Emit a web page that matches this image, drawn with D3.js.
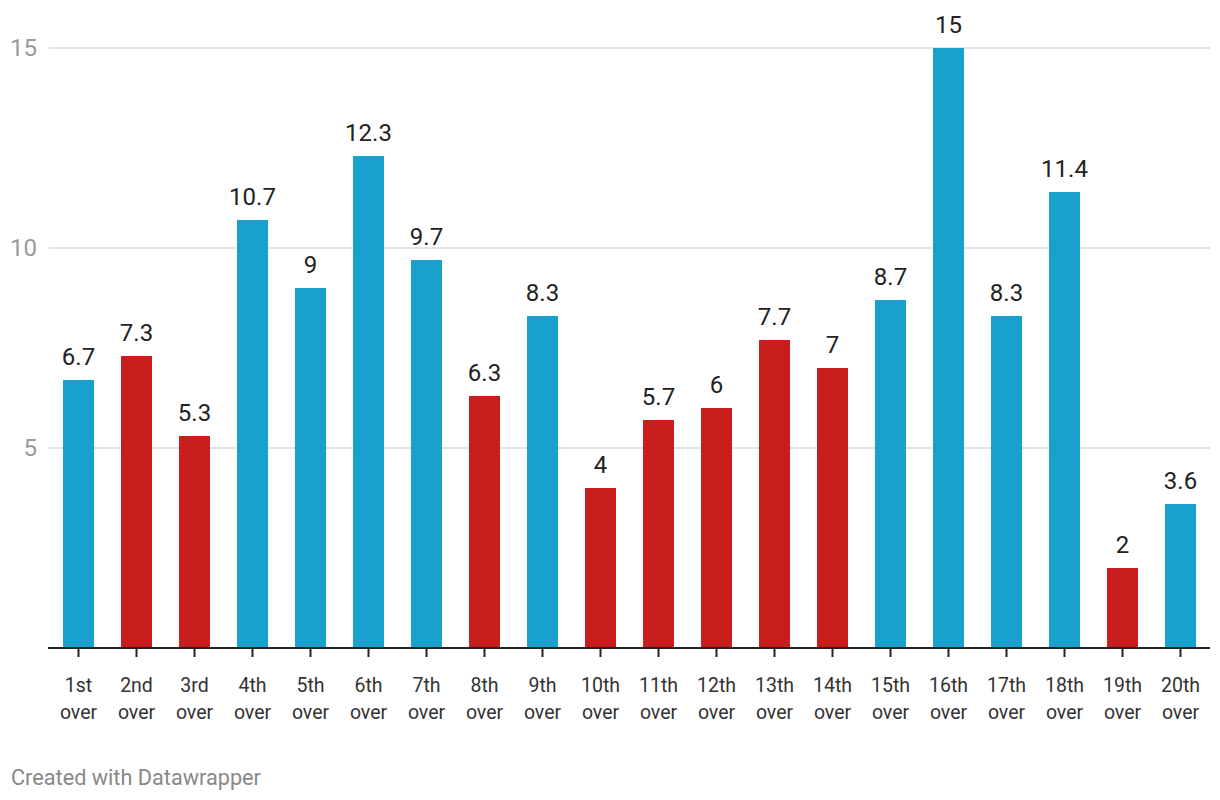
<!DOCTYPE html>
<html>
<head>
<meta charset="utf-8">
<script src="https://cdn.jsdelivr.net/npm/d3@7"></script>
<style>
  body { margin: 0; background: #fff; }
  svg { display: block; font-family: Roboto, "Noto Sans", sans-serif; }
</style>
</head>
<body>
<svg id="chart" width="1220" height="800"></svg>
<script>
const categories = ["1st over","2nd over","3rd over","4th over","5th over","6th over","7th over","8th over","9th over","10th over","11th over","12th over","13th over","14th over","15th over","16th over","17th over","18th over","19th over","20th over"];
const values = [6.7, 7.3, 5.3, 10.7, 9, 12.3, 9.7, 6.3, 8.3, 4, 5.7, 6, 7.7, 7, 8.7, 15, 8.3, 11.4, 2, 3.6];
const wicketOver = [false, true, true, false, false, false, false, true, false, true, true, true, true, true, false, false, false, false, true, false];
const yTicks = [5, 10, 15];
const footer = "Created with Datawrapper";

(function () {
const svg = d3.select("#chart");
const mLeft = 49, mRight = 1210, mTop = 48, mBottom = 648;

const x = d3.scaleBand().domain(categories).range([49.5, 1209.5]).paddingInner(0.466).paddingOuter(0.233);
const y = d3.scaleLinear().domain([0, 15]).range([mBottom, mTop]);

// gridlines
svg.append("g").selectAll("line").data(yTicks).join("line")
  .attr("x1", mLeft).attr("x2", mRight)
  .attr("y1", d => y(d)).attr("y2", d => y(d))
  .attr("stroke", "#e3e3e3").attr("stroke-width", 2);

// y labels
svg.append("g").selectAll("text").data(yTicks).join("text")
  .attr("x", 37).attr("y", d => y(d)).attr("dy", "0.35em")
  .attr("text-anchor", "end").attr("font-size", 24).attr("fill", "#9a9a9a")
  .text(d => d);

// bars
svg.append("g").selectAll("rect").data(values).join("rect")
  .attr("x", (d, i) => x(categories[i]))
  .attr("width", x.bandwidth())
  .attr("y", d => y(d))
  .attr("height", d => y(0) - y(d))
  .attr("fill", (d, i) => wicketOver[i] ? "#c71e1d" : "#18a1cd");

// value labels
svg.append("g").selectAll("text").data(values).join("text")
  .attr("x", (d, i) => x(categories[i]) + x.bandwidth() / 2)
  .attr("y", d => y(d) - 15.5)
  .attr("text-anchor", "middle").attr("font-size", 24).attr("fill", "#222")
  .text(d => d);

// baseline
svg.append("line").attr("x1", 48).attr("x2", mRight)
  .attr("y1", y(0)).attr("y2", y(0))
  .attr("stroke", "#222").attr("stroke-width", 2);

// ticks
svg.append("g").selectAll("line").data(categories).join("line")
  .attr("x1", d => x(d) + x.bandwidth() / 2).attr("x2", d => x(d) + x.bandwidth() / 2)
  .attr("y1", y(0)).attr("y2", y(0) + 9)
  .attr("stroke", "#222").attr("stroke-width", 2);

// x labels
const xl = svg.append("g").selectAll("text").data(categories).join("text")
  .attr("text-anchor", "middle").attr("font-size", 19.5).attr("fill", "#333");
xl.each(function(d) {
  const parts = d.split(" ");
  const t = d3.select(this);
  const cx = x(d) + x.bandwidth() / 2;
  parts.forEach((p, j) => {
    t.append("tspan").attr("x", cx).attr("y", 691.5 + j * 27).text(p);
  });
});

// footer
svg.append("text").attr("x", 11).attr("y", 785)
  .attr("font-size", 21.7).attr("fill", "#888").text(footer);
})();
</script>
</body>
</html>
